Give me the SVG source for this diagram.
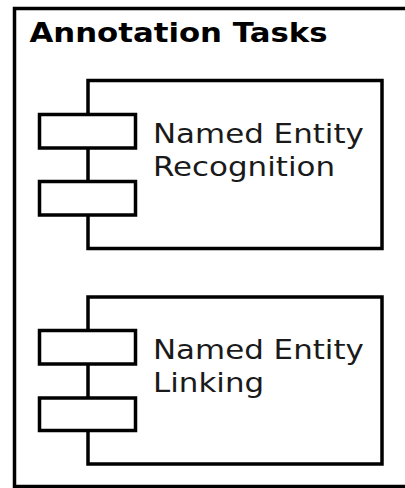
<svg xmlns="http://www.w3.org/2000/svg" width="405" height="488" viewBox="0 0 405 488">
  <style>
    .frame { fill: #ffffff; stroke: #000000; stroke-width: 3.5; }
    .body { fill: #ffffff; stroke: #000000; stroke-width: 3.5; }
    .tab { fill: #ffffff; stroke: #000000; stroke-width: 3.5; }
    .title { font-family: "DejaVu Sans", sans-serif; font-weight: bold; font-size: 27px; fill: #000000; }
    .label { font-family: "DejaVu Sans", sans-serif; font-size: 27px; fill: #1a1a1a; }
  </style>
  <rect width="405" height="488" fill="#ffffff"/>
  <g id="package">
    <rect class="frame" x="14.5" y="8.5" width="420" height="478"/>
    <text class="title" transform="translate(29.5,42) scale(1.14,1)">Annotation Tasks</text>
  </g>
  <g id="connectors"/>
  <g id="ner">
    <rect class="body" x="88" y="80.5" width="294" height="168"/>
    <rect class="tab" x="39.5" y="114.5" width="96" height="33.5"/>
    <rect class="tab" x="39.5" y="181.5" width="96" height="33.5"/>
    <text class="label" transform="translate(153,142.5) scale(1.145,1)">Named Entity</text>
    <text class="label" transform="translate(153,176) scale(1.145,1)">Recognition</text>
  </g>
  <g id="nel">
    <rect class="body" x="88" y="297" width="294" height="167"/>
    <rect class="tab" x="39.5" y="330.5" width="96" height="33.5"/>
    <rect class="tab" x="39.5" y="398" width="96" height="32.5"/>
    <text class="label" transform="translate(153,358.5) scale(1.145,1)">Named Entity</text>
    <text class="label" transform="translate(153,392) scale(1.145,1)">Linking</text>
  </g>
</svg>
